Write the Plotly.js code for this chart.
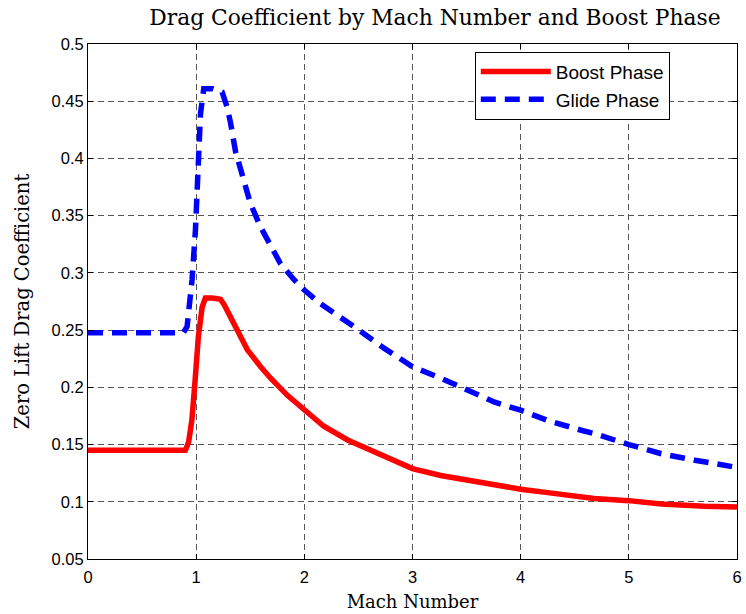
<!DOCTYPE html>
<html>
<head>
<meta charset="utf-8">
<script src="https://cdn.plot.ly/plotly-3.0.1.min.js"></script>
<style>
  html, body { margin: 0; padding: 0; background: #fff; }
  #chart { width: 746px; height: 614px; }
</style>
</head>
<body>
<div id="chart"></div>
<script>
// Zero-lift drag coefficient vs Mach number
const boostMach = [0, 0.5, 0.9, 0.93, 0.96, 0.99, 1.02, 1.055, 1.085, 1.15, 1.225, 1.26, 1.317, 1.395, 1.472, 1.596, 1.688, 1.843, 2.0, 2.18, 2.40, 2.65, 3.0, 3.26, 3.51, 3.76, 4.0, 4.25, 4.56, 4.68, 5.0, 5.3, 5.7, 6.0];
const boostCd   = [0.145, 0.145, 0.145, 0.152, 0.171, 0.206, 0.244, 0.270, 0.278, 0.278, 0.277, 0.272, 0.262, 0.247, 0.233, 0.218, 0.208, 0.193, 0.180, 0.166, 0.154, 0.144, 0.129, 0.123, 0.119, 0.114, 0.111, 0.108, 0.105, 0.1028, 0.101, 0.098, 0.096, 0.0955];

const glideMach = [0, 0.5, 0.88, 0.916, 0.962, 0.993, 1.014, 1.04, 1.07, 1.15, 1.24, 1.286, 1.318, 1.364, 1.44, 1.50, 1.596, 1.69, 1.78, 1.905, 2.0, 2.15, 2.31, 2.49, 2.74, 3.0, 3.26, 3.51, 3.76, 4.0, 4.25, 4.56, 4.68, 5.0, 5.3, 5.61, 6.0];
const glideCd   = [0.2476, 0.2476, 0.2476, 0.253, 0.294, 0.337, 0.396, 0.439, 0.461, 0.461, 0.458, 0.445, 0.431, 0.406, 0.381, 0.361, 0.340, 0.323, 0.308, 0.294, 0.285, 0.273, 0.263, 0.251, 0.234, 0.218, 0.208, 0.1975, 0.187, 0.180, 0.171, 0.1625, 0.1596, 0.150, 0.142, 0.1363, 0.130];

const xTicks = [0, 1, 2, 3, 4, 5, 6];
const yTicks = [0.05, 0.1, 0.15, 0.2, 0.25, 0.3, 0.35, 0.4, 0.45, 0.5];

const serif = 'DejaVu Serif, Georgia, serif';
const sans = 'Liberation Sans, Arial, sans-serif';

const traces = [
  {
    x: boostMach, y: boostCd, name: 'Boost Phase', type: 'scatter', mode: 'lines',
    line: { color: '#ff0000', width: 5.5 }
  },
  {
    x: glideMach, y: glideCd, name: 'Glide Phase', type: 'scatter', mode: 'lines',
    line: { color: '#0000ff', width: 5.5, dash: '15px,9px' }
  }
];

const axisCommon = {
  showline: true, linecolor: '#000', linewidth: 1, mirror: 'ticks',
  ticks: 'inside', ticklen: 5, tickcolor: '#000',
  showgrid: true, gridcolor: '#555', gridwidth: 1, griddash: '6px,4px',
  zeroline: false,
  tickfont: { family: sans, size: 16.5, color: '#000' }
};

const layout = {
  width: 746, height: 614,
  margin: { l: 88, r: 9, t: 44, b: 55 },
  paper_bgcolor: '#fff', plot_bgcolor: '#fff',
  title: {
    text: 'Drag Coefficient by Mach Number and Boost Phase',
    font: { family: serif, size: 21.8, color: '#000' },
    x: 0.583, xref: 'container', xanchor: 'center', y: 0.972, yanchor: 'middle'
  },
  xaxis: Object.assign({}, axisCommon, {
    range: [0, 6], tickvals: xTicks, ticktext: xTicks.map(String),
    ticklabelstandoff: 3,
    title: { text: 'Mach Number', standoff: 10,
      font: { family: serif, size: 18, color: '#000' } }
  }),
  yaxis: Object.assign({}, axisCommon, {
    range: [0.05, 0.5], tickvals: yTicks, ticktext: yTicks.map(v => String(v)),
    title: { text: 'Zero Lift Drag Coefficient', standoff: 16,
      font: { family: serif, size: 19.5, color: '#000' } }
  }),
  legend: {
    x: 0.596, y: 0.985, xanchor: 'left', yanchor: 'top',
    bgcolor: '#fff', bordercolor: '#000', borderwidth: 1,
    font: { family: sans, size: 19, color: '#000' },
    tracegroupgap: 0, itemwidth: 70
  },
  showlegend: true
};

Plotly.newPlot('chart', traces, layout, { displayModeBar: false, staticPlot: true });
</script>
</body>
</html>
